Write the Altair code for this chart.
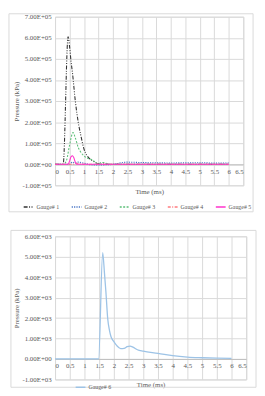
import json
import altair as alt
import pandas as pd

# ---------------- data ----------------
g1_t = [0, 0.25, 0.28, 0.45, 0.5, 0.55, 0.6, 0.7, 0.8, 0.9, 1.0, 1.1, 1.2, 1.3, 1.4, 1.5, 2, 3, 4, 5, 6]
g1_p = [0, 0, 0, 6.05e5, 5.6e5, 4.9e5, 4.35e5, 3.0e5, 2.0e5, 1.3e5, 0.72e5, 0.42e5, 0.26e5, 0.16e5, 0.07e5, 0.02e5, 0, 0, 0, 0, 0]

g2_t = [0, 0.5, 0.6, 0.7, 0.8, 1.0, 1.3, 1.6, 2.0, 2.2, 2.5, 3, 3.5, 4, 4.5, 5, 5.5, 6]
g2_p = [0, 0, 0.1e5, 0.05e5, 0.1e5, 0.05e5, -0.03e5, -0.03e5, -0.01e5, 0.05e5, 0.1e5, 0.08e5, 0.07e5, 0.06e5, 0.07e5, 0.07e5, 0.06e5, 0.06e5]

g3_t = [0, 0.3, 0.4, 0.5, 0.62, 0.7, 0.8, 0.9, 1.0, 1.1, 1.2, 1.3, 1.4, 1.5, 1.6, 1.7, 1.8, 2.0, 2.5, 3, 4, 5, 6]
g3_p = [0, 0, 0.2e5, 0.9e5, 1.5e5, 1.25e5, 0.8e5, 0.55e5, 0.4e5, 0.3e5, 0.25e5, 0.2e5, 0.08e5, 0.02e5, 0.08e5, 0.08e5, 0.03e5, 0, 0, 0, 0, 0, 0]

g4_t = [0, 0.6, 0.75, 0.9, 1.2, 2, 3, 4, 5, 6]
g4_p = [0, 0, 0.05e5, 0.01e5, 0, 0, 0, 0, 0, 0]

g5_t = [0, 0.45, 0.5, 0.55, 0.6, 0.65, 0.7, 0.75, 0.8, 1, 2, 3, 4, 5, 6]
g5_p = [0, 0, 0.15e5, 0.35e5, 0.4e5, 0.3e5, 0.1e5, 0, 0, 0, 0, 0, 0, 0, 0]

g6_t = [0, 1.48, 1.62, 1.68, 1.73, 1.79, 1.85, 1.9, 2.0, 2.1, 2.23, 2.35, 2.45, 2.55, 2.65, 2.8, 3.0, 3.5, 4.0, 4.5, 5.0, 5.5, 6.0]
g6_p = [0, 0, 5200, 4200, 3260, 1980, 1400, 1100, 850, 650, 510, 520, 600, 630, 580, 450, 380, 280, 160, 90, 60, 40, 30]

series_top = ["Gauge# 1", "Gauge# 2", "Gauge# 3", "Gauge# 4", "Gauge# 5"]
series_bottom = ["Gauge# 6"]

x_ticks = [0, 0.5, 1, 1.5, 2, 2.5, 3, 3.5, 4, 4.5, 5, 5.5, 6, 6.5]
top_y_ticks = [-1e5, 0, 1e5, 2e5, 3e5, 4e5, 5e5, 6e5, 7e5]
top_y_labels = ["-1.00E+05", "0.00E+00", "1.00E+05", "2.00E+05", "3.00E+05",
                "4.00E+05", "5.00E+05", "6.00E+05", "7.00E+05"]
bot_y_ticks = [-1e3, 0, 1e3, 2e3, 3e3, 4e3, 5e3, 6e3]
bot_y_labels = ["-1.00E+03", "0.00E+00", "1.00E+03", "2.00E+03", "3.00E+03",
                "4.00E+03", "5.00E+03", "6.00E+03"]

# ---------------- styles ----------------
colors_top = ["#333333", "#4472C4", "#5CBF78", "#FF7C80", "#FF33CC"]
dashes_top = [[4, 1.5, 1, 1.5, 1, 1.5], [1.2, 1.2], [2, 1.5], [3, 1.5, 1, 1.5], [1, 0]]
color_bottom = ["#9DC3E6"]

FONT = "Liberation Serif"
TXT = "#595959"
GRID = "#d9d9d9"

rows = []
for name, ts, ps in zip(series_top, [g1_t, g2_t, g3_t, g4_t, g5_t], [g1_p, g2_p, g3_p, g4_p, g5_p]):
    for t, p in zip(ts, ps):
        rows.append({"series": name, "t": t, "p": p})
df_top = pd.DataFrame(rows)
df_bot = pd.DataFrame({"series": series_bottom[0], "t": g6_t, "p": g6_p})
one = pd.DataFrame({"a": [0]})

W1, H1 = 192, 172
W2, H2 = 195, 146


def y_axis(ticks, labels, step):
    expr = json.dumps(labels) + f"[round(datum.value/{step})+1]"
    return alt.Axis(values=ticks, labelExpr=expr, title="Pressure (kPa)", grid=True,
                    gridColor=GRID, ticks=False, domain=False, labelPadding=4,
                    titlePadding=2, labelFontSize=7, titleFontSize=7)


def x_axis(offset, title_y):
    return alt.Axis(values=x_ticks, format="~g", title="Time (ms)", grid=True, gridColor=GRID,
                    ticks=False, domain=True, domainColor="#bfbfbf", offset=offset,
                    labelPadding=3, labelFontSize=7, titleFontSize=7, titleY=title_y)


leg_top = alt.Legend(title=None, orient="none", legendX=-33, legendY=188, direction="horizontal",
                     columns=5, symbolType="stroke", symbolSize=100, symbolStrokeWidth=1.5,
                     labelFontSize=6, labelOffset=2, columnPadding=9)

top_lines = alt.Chart(df_top).mark_line(strokeWidth=1.1, interpolate="monotone").encode(
    x=alt.X("t:Q", scale=alt.Scale(domain=[0, 6.5], nice=False), axis=x_axis(-H1 / 8, 24)),
    y=alt.Y("p:Q", scale=alt.Scale(domain=[-1e5, 7e5], nice=False),
            axis=y_axis(top_y_ticks, top_y_labels, 100000)),
    color=alt.Color("series:N", scale=alt.Scale(domain=series_top, range=colors_top), legend=leg_top),
    strokeDash=alt.StrokeDash("series:N", scale=alt.Scale(domain=series_top, range=dashes_top), legend=leg_top),
    order=alt.Order("t:Q"),
)
top_border = alt.Chart(one).mark_rect(fillOpacity=0, stroke=GRID, strokeWidth=1).encode(
    x=alt.value(-47), x2=alt.value(W1 + 10), y=alt.value(-3), y2=alt.value(199))
top = alt.layer(top_border, top_lines).properties(width=W1, height=H1)

leg_bot = alt.Legend(title=None, orient="none", legendX=20, legendY=148, direction="horizontal",
                     symbolType="stroke", symbolSize=100, symbolStrokeWidth=1.5,
                     labelFontSize=6, labelOffset=2)

bot_line = alt.Chart(df_bot).mark_line(strokeWidth=1.3, interpolate="monotone").encode(
    x=alt.X("t:Q", scale=alt.Scale(domain=[0, 6.5], nice=False), axis=x_axis(-H2 / 7, 22)),
    y=alt.Y("p:Q", scale=alt.Scale(domain=[-1e3, 6e3], nice=False),
            axis=y_axis(bot_y_ticks, bot_y_labels, 1000)),
    color=alt.Color("series:N", scale=alt.Scale(domain=series_bottom, range=color_bottom), legend=leg_bot),
    order=alt.Order("t:Q"),
)
bot_border = alt.Chart(one).mark_rect(fillOpacity=0, stroke=GRID, strokeWidth=1).encode(
    x=alt.value(-45), x2=alt.value(W2 + 10), y=alt.value(-6), y2=alt.value(154))
bottom = alt.layer(bot_border, bot_line).properties(width=W2, height=H2)

chart = alt.vconcat(top, bottom, spacing=17).resolve_scale(
    color="independent", strokeDash="independent"
).properties(padding=0).configure_view(stroke=GRID).configure_axis(
    labelFont=FONT, titleFont=FONT, labelColor=TXT, titleColor=TXT, titleFontWeight="normal"
).configure_legend(labelFont=FONT, labelColor=TXT)

chart.save("out.html", embed_options={"renderer": "svg", "actions": False})
